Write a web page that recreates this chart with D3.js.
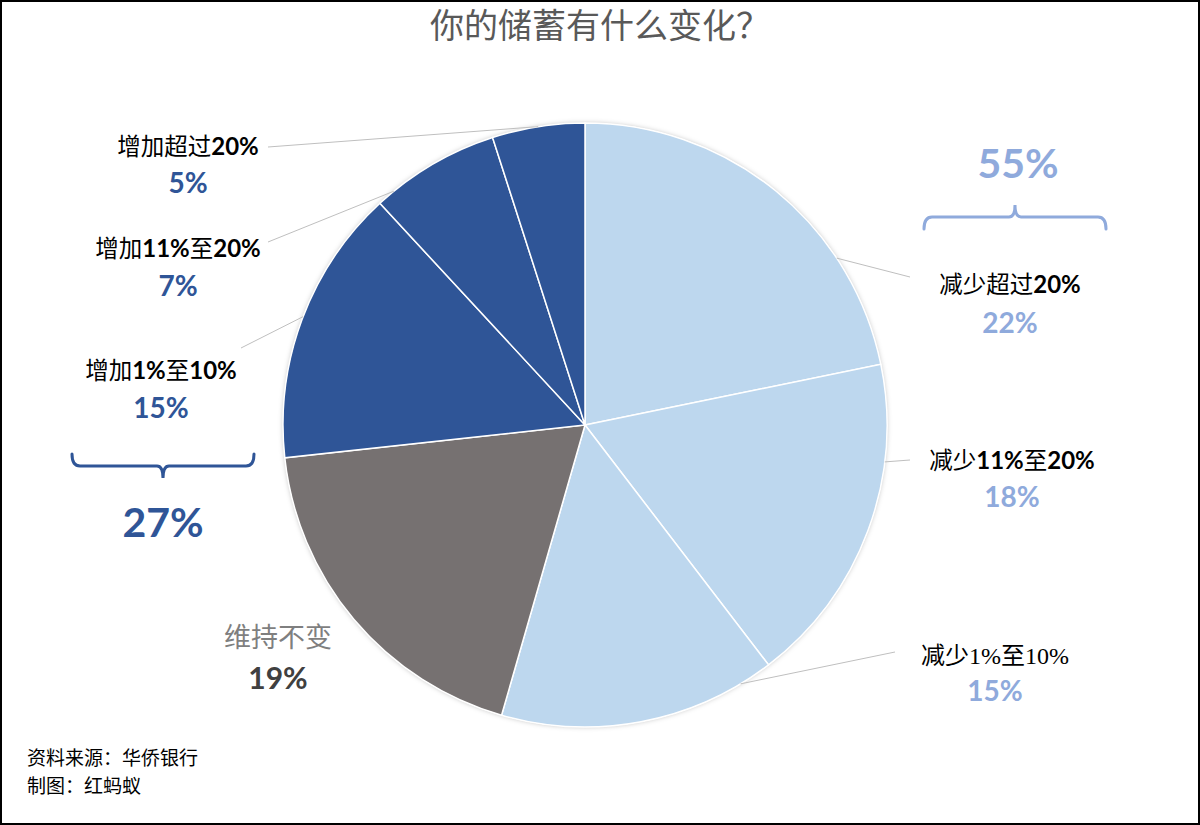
<!DOCTYPE html>
<html><head><meta charset="utf-8">
<script src="https://cdn.jsdelivr.net/npm/d3@7"></script>
<style>
html,body{margin:0;padding:0;background:#fff;}
svg{display:block;}
</style></head>
<body><svg id="c" width="1200" height="825"></svg>
<script>
const categories = ["减少超过20%","减少11%至20%","减少1%至10%","维持不变","增加1%至10%","增加11%至20%","增加超过20%"];
const values = [22,18,15,19,15,7,5];
const percentLabels = ["22%","18%","15%","19%","15%","7%","5%"];
const groupLabels = ["55%","27%"];
const title = "你的储蓄有什么变化？";
const sourceLines = ["资料来源：华侨银行","制图：红蚂蚁"];

const light = "#BDD7EE", gray = "#767171", dark = "#2F5597";
const sliceColors = [light,light,light,gray,dark,dark,dark];
const pctColors = ["#8FAADC","#8FAADC","#8FAADC","#404040","#2F5597","#2F5597","#2F5597"];

const svg = d3.select("#c");
const W = 1200, H = 825;
svg.append("rect").attr("x",1).attr("y",1).attr("width",W-2).attr("height",H-2)
  .attr("fill","#fff").attr("stroke","#000").attr("stroke-width",2);

const defs = svg.append("defs");
const f = defs.append("filter").attr("id","sh").attr("x","-10%").attr("y","-10%").attr("width","120%").attr("height","120%");
f.append("feDropShadow").attr("dx",0).attr("dy",0).attr("stdDeviation",2.5)
  .attr("flood-color","#000").attr("flood-opacity",0.25);

svg.append("text").attr("x",600).attr("y",38).attr("text-anchor","middle")
  .attr("font-family","'Noto Sans CJK SC','Noto Sans',sans-serif").attr("font-size",34)
  .attr("fill","#595959").text(title);

const cx = 585, cy = 425, R = 302;
const pie = d3.pie().sort(null).value(d=>d)(values);
const arc = d3.arc().innerRadius(0).outerRadius(R);
const g = svg.append("g").attr("transform",`translate(${cx},${cy})`);
g.append("circle").attr("r",R).attr("fill","#fff").attr("filter","url(#sh)");
g.selectAll("path").data(pie).join("path")
  .attr("d",arc).attr("fill",(d,i)=>sliceColors[i])
  .attr("stroke","#fff").attr("stroke-width",1.5);

const layout = [
  {x:1010, ny:293, py:333, lx:910, ly:277, t:0.72},
  {x:1012, ny:469, py:507, lx:910, ly:460, t:0.29},
  {x:995,  ny:664, py:701, lx:895, ly:652, t:0.12},
  {x:278,  ny:647, py:689, lx:null},
  {x:161,  ny:379, py:418, lx:241, ly:348, t:0.51},
  {x:178,  ny:257, py:296, lx:268, ly:242, t:0.14},
  {x:188,  ny:155, py:193, lx:268, ly:147, t:0.5}
];

const cjk = "'Noto Sans CJK SC','Noto Sans',sans-serif";
const latin = "Lato,'Open Sans',sans-serif";

pie.forEach((d,i)=>{
  const L = layout[i];
  if(L.lx!==null){
    const a = d.startAngle + (d.endAngle-d.startAngle)*L.t;
    const ex = cx + R*Math.sin(a), ey = cy - R*Math.cos(a);
    svg.append("line").attr("x1",L.lx).attr("y1",L.ly).attr("x2",ex).attr("y2",ey)
      .attr("stroke","#BFBFBF").attr("stroke-width",1);
  }
  const name = categories[i];
  const t = svg.append("text").attr("x",L.x).attr("y",L.ny).attr("text-anchor","middle");
  if(i===3){
    t.attr("font-family",cjk).attr("font-size",27).attr("fill","#7F7F7F").text(name);
  } else if(i===2){
    t.attr("font-family","'Liberation Serif','Noto Sans CJK SC',serif").attr("font-size",24).attr("fill","#000").text(name);
  } else {
    const parts = name.match(/[0-9%]+|[^0-9%]+/g);
    parts.forEach(p=>{
      const isNum = /[0-9%]/.test(p);
      t.append("tspan").text(p)
        .attr("font-family", isNum ? latin : cjk)
        .attr("font-weight", isNum ? 700 : 400)
        .attr("font-size", isNum ? 24 : 23.5).attr("fill","#000");
    });
  }
  svg.append("text").attr("x",L.x).attr("y",L.py).attr("text-anchor","middle")
    .attr("font-family",latin).attr("font-weight",700)
    .attr("font-size", i===3?30:28).attr("fill",pctColors[i]).text(percentLabels[i]);
});

function bracket(x1,x2,y,dir,color){
  const xm=(x1+x2)/2, e=12*dir;
  const path = d3.path();
  path.moveTo(x1,y+e); path.quadraticCurveTo(x1,y,x1+8,y);
  path.lineTo(xm-6,y); path.quadraticCurveTo(xm,y,xm,y-e);
  path.quadraticCurveTo(xm,y,xm+6,y);
  path.lineTo(x2-8,y); path.quadraticCurveTo(x2,y,x2,y+e);
  svg.append("path").attr("d",path.toString()).attr("fill","none")
    .attr("stroke",color).attr("stroke-width",3).attr("stroke-linecap","round");
}
bracket(924,1106,217,1,"#8FAADC");
bracket(72,254,466,-1,"#2F5597");

svg.append("text").attr("x",1018).attr("y",178).attr("text-anchor","middle")
  .attr("font-family",latin).attr("font-weight",700).attr("font-size",41)
  .attr("fill","#8FAADC").text(groupLabels[0]);
svg.append("text").attr("x",163).attr("y",537).attr("text-anchor","middle")
  .attr("font-family",latin).attr("font-weight",700).attr("font-size",41)
  .attr("fill","#2F5597").text(groupLabels[1]);

sourceLines.forEach((s,i)=>{
  svg.append("text").attr("x",27).attr("y",765+i*28)
    .attr("font-family",cjk).attr("font-size",19).attr("fill","#000").text(s);
});
</script></body></html>
